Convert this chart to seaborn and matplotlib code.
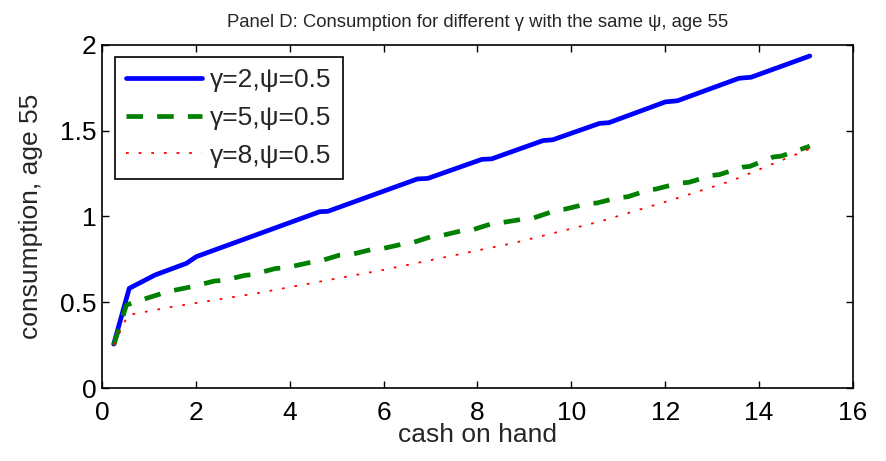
import matplotlib
matplotlib.use("Agg")
import matplotlib.pyplot as plt
import seaborn as sns
import pandas as pd

# ---- data ----
x_g2 = [0.25, 0.58, 1.13, 1.80, 2.01, 4.64, 4.81, 6.72, 6.94, 8.09, 8.30,
        9.40, 9.60, 10.60, 10.80, 12.00, 12.26, 13.57, 13.83, 15.08]
y_g2 = [0.256, 0.581, 0.659, 0.727, 0.766, 1.028, 1.030, 1.219, 1.222, 1.333, 1.336,
        1.443, 1.447, 1.543, 1.547, 1.668, 1.675, 1.806, 1.812, 1.936]

x_g5 = [0.25, 0.52, 0.95, 1.40, 1.90, 2.40, 2.60, 3.05, 3.20, 3.70, 3.90,
        4.40, 4.64, 5.05, 5.30, 5.75, 5.96, 6.45, 6.60, 7.05, 7.25,
        7.70, 7.90, 8.35, 8.55, 9.05, 9.20, 9.70, 9.85, 10.35, 10.55,
        11.00, 11.20, 11.65, 11.80, 12.30, 12.50, 13.00, 13.15, 13.65, 13.80,
        14.30, 14.47, 15.08]
y_g5 = [0.250, 0.484, 0.523, 0.562, 0.590, 0.624, 0.628, 0.657, 0.661, 0.697, 0.700,
        0.730, 0.740, 0.774, 0.778, 0.808, 0.812, 0.842, 0.846, 0.886, 0.890,
        0.919, 0.923, 0.962, 0.966, 0.988, 0.992, 1.038, 1.042, 1.075, 1.079,
        1.110, 1.115, 1.155, 1.160, 1.195, 1.199, 1.240, 1.244, 1.288, 1.292,
        1.347, 1.352, 1.410]

x_g8 = [0.25, 0.55, 1.51, 3.29, 5.98, 8.75, 10.60, 12.13, 13.40, 15.08]
y_g8 = [0.250, 0.425, 0.474, 0.552, 0.688, 0.844, 0.970, 1.096, 1.207, 1.395]

labels = ["γ=2,ψ=0.5", "γ=5,ψ=0.5", "γ=8,ψ=0.5"]
x_ticks = [0, 2, 4, 6, 8, 10, 12, 14, 16]
y_ticks = [0, 0.5, 1, 1.5, 2]
y_tick_labels = ["0", "0.5", "1", "1.5", "2"]

# ---- plotting ----
sns.set_style("ticks")
plt.rcParams["font.family"] = ["Liberation Sans", "DejaVu Sans"]
plt.rcParams["xtick.direction"] = "in"
plt.rcParams["ytick.direction"] = "in"

fig = plt.figure(figsize=(8.87, 4.61), dpi=100)
ax = fig.add_axes([102 / 887, 1 - 388 / 461, (853 - 102) / 887, (388 - 45) / 461])

df2 = pd.DataFrame({"x": x_g2, "y": y_g2})
df5 = pd.DataFrame({"x": x_g5, "y": y_g5})
df8 = pd.DataFrame({"x": x_g8, "y": y_g8})

sns.lineplot(data=df2, x="x", y="y", ax=ax, color="#0000ff", linewidth=3.4,
             label=labels[0], sort=False, estimator=None)
sns.lineplot(data=df5, x="x", y="y", ax=ax, color="#008000", linewidth=3.4,
             label=labels[1], sort=False, estimator=None)
sns.lineplot(data=df8, x="x", y="y", ax=ax, color="#ff0000", linewidth=1.3,
             label=labels[2], sort=False, estimator=None)
ax.lines[1].set_dashes((3.5, 3))
ax.lines[2].set_dashes((1.5, 5.5))

ax.set_xlim(0, 16)
ax.set_ylim(0, 2)
ax.set_xticks(x_ticks)
ax.set_yticks(y_ticks)
ax.set_yticklabels(y_tick_labels)
ax.tick_params(axis="both", which="both", direction="in", top=True, right=True,
               labelsize=19, length=5, width=1, colors="black")
ax.tick_params(axis="x", pad=9)
ax.tick_params(axis="y", pad=4)
for s in ax.spines.values():
    s.set_visible(True)
    s.set_linewidth(1.2)
    s.set_color("black")

ax.set_xlabel("cash on hand", fontsize=19, labelpad=-1)
ax.set_ylabel("consumption, age 55", fontsize=19, labelpad=12)
ax.set_title("Panel D: Consumption for different γ with the same ψ, age 55",
             fontsize=13.3, pad=13)

leg = ax.legend(loc="upper left", bbox_to_anchor=(0.017, 0.965), borderaxespad=0,
                fontsize=19, handlelength=2.9, handletextpad=0.3, labelspacing=0.52,
                frameon=True, fancybox=False, edgecolor="black", framealpha=1,
                borderpad=0.42)
leg.get_frame().set_linewidth(1.2)
handles = leg.legend_handles
handles[1].set_dashes((3.5, 3))
handles[2].set_dashes((1.5, 5.5))

fig.savefig("out.png", dpi=100)
